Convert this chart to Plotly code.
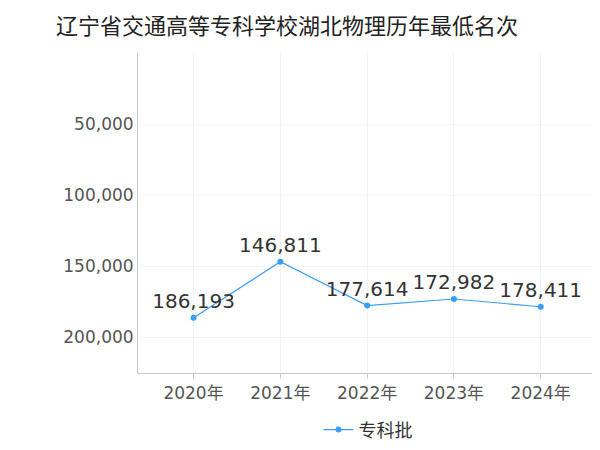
import plotly.graph_objs as go

years = ["2020年", "2021年", "2022年", "2023年", "2024年"]
ranks = [186193, 146811, 177614, 172982, 178411]
rank_labels = ["186,193", "146,811", "177,614", "172,982", "178,411"]

fig = go.Figure()
fig.add_trace(go.Scatter(
    x=years, y=ranks, mode="lines+markers+text", name="专科批",
    text=rank_labels, textposition="top center",
    textfont=dict(size=20, color="#333"),
    line=dict(color="#3a9ff5", width=1.2),
    marker=dict(size=6, color="#3a9ff5"),
))

fig.update_layout(
    width=600, height=450,
    margin=dict(l=130, r=10, t=45, b=80),
    paper_bgcolor="white", plot_bgcolor="white",
    font=dict(family="DejaVu Sans, Noto Sans CJK SC", color="#555"),
    title=dict(text="辽宁省交通高等专科学校湖北物理历年最低名次",
               x=0.08, y=0.96, xanchor="left", yanchor="middle",
               font=dict(size=22, color="#222")),
    showlegend=True,
    legend=dict(orientation="h", x=0.5, xanchor="center", y=-0.12, yanchor="top",
                font=dict(size=18, color="#333")),
)
fig.update_xaxes(range=[-0.64, 4.66], showline=True, linecolor="#ccc",
                 showgrid=True, gridcolor="#f3f3f3",
                 tickfont=dict(size=17), ticks="outside", tickcolor="#ccc")
fig.update_yaxes(range=[225000, 0], tickvals=[50000, 100000, 150000, 200000],
                 tickformat=",", showline=True, linecolor="#ccc",
                 showgrid=True, gridcolor="#f3f3f3", zeroline=False,
                 tickfont=dict(size=17), ticks="", ticklen=8)

fig.write_html("out.html")
